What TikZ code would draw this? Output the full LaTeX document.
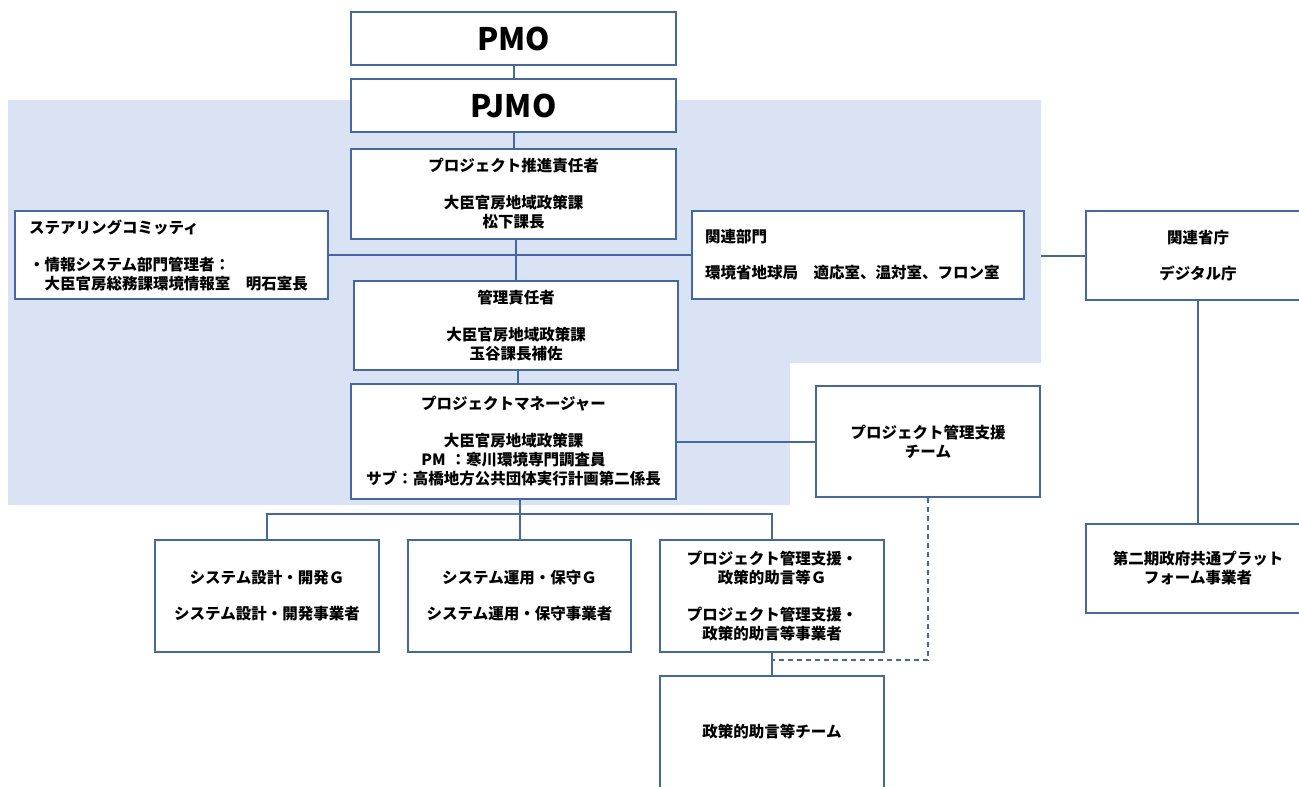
\documentclass[tikz,border=0pt]{standalone}
\usepackage{fontspec}
\setmainfont{Noto Sans CJK JP}
\definecolor{edge}{RGB}{66,103,170}
\definecolor{groupbg}{RGB}{218,227,243}
\tikzset{
  box/.style={draw=edge, line width=1.8pt, fill=white, inner sep=0pt, align=center,
    font=\fontsize{15.5}{19}\selectfont\bfseries},
  bigbox/.style={box, font=\fontsize{31}{36}\selectfont\bfseries},
  wire/.style={draw=edge, line width=2pt},
  dashwire/.style={wire, line width=1.8pt, dash pattern=on 5pt off 4pt},
  sz/.style 2 args={minimum width=#1pt, minimum height=#2pt},
}
\begin{document}
\begin{tikzpicture}[x=1pt, y=-1pt]
\useasboundingbox (0,0) rectangle (1299,787);
% shaded project group with its lower-right corner cut away
\fill[groupbg] (8,100) -- (1041,100) -- (1041,363) -- (790,363) -- (790,505) -- (8,505) -- cycle;

% central chain
\node[bigbox, sz={325}{53}] (pmo) at (513.5,38.5) {PMO};
\node[bigbox, sz={325}{53}] (pjmo) at (513.5,105.5) {PJMO};
\node[box, sz={325}{90}] (suishin) at (513.5,194) {プロジェクト推進責任者\\[18pt]大臣官房地域政策課\\松下課長};
\node[box, sz={324}{89}] (kanri) at (516,325.5) {管理責任者\\[18pt]大臣官房地域政策課\\玉谷課長補佐};
\node[box, sz={325}{115}] (pm) at (513.5,441.5) {プロジェクトマネージャー\\[18pt]大臣官房地域政策課\\PM\hspace{5pt}：寒川環境専門調査員\\サブ：高橋地方公共団体実行計画第二係長};

% side boxes
\node[box, sz={313}{88}, text width=285pt, align=left] (steer) at (171.5,255) {ステアリングコミッティ\\[18pt]・情報システム部門管理者：\\　大臣官房総務課環境情報室　明石室長};
\node[box, sz={332}{88}, text width=306pt, align=left] (kanrenbu) at (858,255) {関連部門\\[17pt]環境省地球局　適応室、温対室、フロン室};
\node[box, sz={224}{89}] (kanrensho) at (1198,255.5) {関連省庁\\[17pt]デジタル庁};
\node[box, sz={224}{111}] (shien) at (928,441.5) {プロジェクト管理支援\\チーム};
\node[box, sz={224}{89}] (daini) at (1198,568.5) {第二期政府共通プラット\\フォーム事業者};

% groups under the project manager
\node[box, sz={224}{112}] (g1) at (267,596) {システム設計・開発Ｇ\\[17pt]システム設計・開発事業者};
\node[box, sz={223}{112}] (g2) at (519.5,596) {システム運用・保守Ｇ\\[17pt]システム運用・保守事業者};
\node[box, sz={224}{112}] (g3) at (772,596) {プロジェクト管理支援・\\政策的助言等Ｇ\\[18pt]プロジェクト管理支援・\\政策的助言等事業者};
\node[box, sz={224}{112}] (seisaku) at (772,732) {政策的助言等チーム};

% connectors
\coordinate (busy) at (0,514);
\coordinate (dashy) at (0,660);
\coordinate (groupE) at (1041,255.5);
\draw[wire] (pmo.south) -- (pjmo.north);
\draw[wire] (pjmo.south) -- (suishin.north);
\draw[wire] (kanri.north) -- (kanri.north |- suishin.south);
\draw[wire] (steer.east) -- (kanrenbu.west);
\draw[wire] (groupE) -- (kanrensho.west);
\draw[wire] (kanri.south -| 518,0) -- (pm.north -| 518,0);
\draw[wire] (pm.east) -- (shien.west);
\draw[wire] (g2.north) -- (pm.south -| g2.north);
\draw[wire] (g1.north) -- (g1.north |- busy) -- (g3.north |- busy) -- (g3.north);
\draw[wire] (g3.south) -- (seisaku.north);
\draw[wire] (kanrensho.south) -- (daini.north);
\draw[dashwire] (shien.south) -- (shien.south |- dashy) -- (g3.south |- dashy);
\end{tikzpicture}
\end{document}
